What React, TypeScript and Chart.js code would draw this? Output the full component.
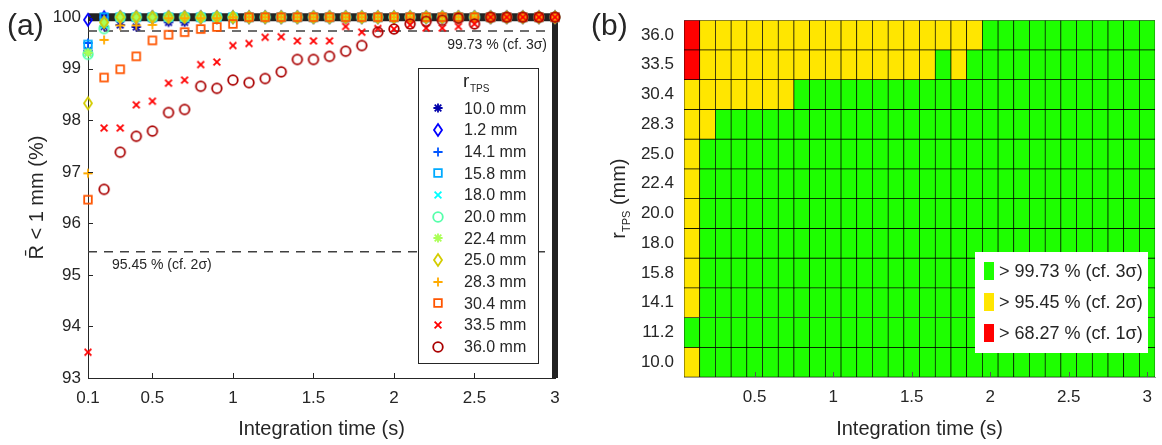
import React, { useEffect, useRef } from 'react';
import { Chart, registerables } from 'chart.js';

Chart.register(...registerables);

const FONT = "'Liberation Sans', Arial, Helvetica, sans-serif";
const TXT = '#262626';

// ---------- data ----------
const times = [0.1, 0.2, 0.3, 0.4, 0.5, 0.6, 0.7, 0.8, 0.9, 1.0, 1.1, 1.2, 1.3, 1.4, 1.5, 1.6, 1.7, 1.8, 1.9, 2.0, 2.1, 2.2, 2.3, 2.4, 2.5, 2.6, 2.7, 2.8, 2.9, 3.0];

const legendLabels = ['10.0 mm', '1.2 mm', '14.1 mm', '15.8 mm', '18.0 mm', '20.0 mm', '22.4 mm', '25.0 mm', '28.3 mm', '30.4 mm', '33.5 mm', '36.0 mm'];
const heatRows = ['10.0', '11.2', '14.1', '15.8', '18.0', '20.0', '22.4', '25.0', '28.3', '30.4', '33.5', '36.0'];

const r10_0 = [99.35, 99.82, 99.85, 99.81, 99.97, 99.9, 99.9, 100, 100, 100, 100, 100, 100, 100, 100, 100, 100, 100, 100, 100, 100, 100, 100, 100, 100, 100, 100, 100, 100, 100];
const r11_2 = [99.95, 100, 100, 100, 100, 100, 100, 100, 100, 100, 100, 100, 100, 100, 100, 100, 100, 100, 100, 100, 100, 100, 100, 100, 100, 100, 100, 100, 100, 100];
const r14_1 = [99.5, 100, 100, 100, 100, 100, 100, 100, 100, 100, 100, 100, 100, 100, 100, 100, 100, 100, 100, 100, 100, 100, 100, 100, 100, 100, 100, 100, 100, 100];
const r15_8 = [99.47, 100, 100, 100, 100, 100, 100, 100, 100, 100, 100, 100, 100, 100, 100, 100, 100, 100, 100, 100, 100, 100, 100, 100, 100, 100, 100, 100, 100, 100];
const r18_0 = [99.3, 99.85, 100, 100, 100, 100, 100, 100, 100, 100, 100, 100, 100, 100, 100, 100, 100, 100, 100, 100, 100, 100, 100, 100, 100, 100, 100, 100, 100, 100];
const r20_0 = [99.28, 99.78, 100, 100, 100, 100, 100, 100, 100, 100, 100, 100, 100, 100, 100, 100, 100, 100, 100, 100, 100, 100, 100, 100, 100, 100, 100, 100, 100, 100];
const r22_4 = [99.31, 99.9, 100, 100, 100, 100, 100, 100, 100, 100, 100, 100, 100, 100, 100, 100, 100, 100, 100, 100, 100, 100, 100, 100, 100, 100, 100, 100, 100, 100];
const r25_0 = [98.33, 99.9, 100, 100, 100, 100, 100, 100, 100, 100, 100, 100, 100, 100, 100, 100, 100, 100, 100, 100, 100, 100, 100, 100, 100, 100, 100, 100, 100, 100];
const r28_3 = [96.97, 99.56, 99.84, 99.84, 99.85, 99.98, 99.98, 99.98, 99.98, 100, 100, 100, 100, 100, 100, 100, 100, 100, 100, 100, 100, 100, 100, 100, 100, 100, 100, 100, 100, 100];
const r30_4 = [96.46, 98.83, 98.99, 99.24, 99.55, 99.66, 99.71, 99.77, 99.81, 99.87, 100, 100, 100, 100, 100, 100, 100, 100, 100, 100, 100, 100, 100, 100, 100, 100, 100, 100, 100, 100];
const r33_5 = [93.5, 97.85, 97.85, 98.3, 98.37, 98.72, 98.78, 99.08, 99.13, 99.45, 99.49, 99.61, 99.62, 99.54, 99.54, 99.54, 99.82, 99.71, 99.78, 99.77, 99.85, 99.79, 99.79, 99.82, 99.87, 100, 100, 100, 100, 100];
const r36_0 = [91.5, 96.66, 97.38, 97.69, 97.79, 98.15, 98.21, 98.66, 98.62, 98.78, 98.73, 98.81, 98.94, 99.18, 99.18, 99.24, 99.34, 99.45, 99.71, 99.77, 99.87, 99.92, 99.94, 99.98, 99.87, 100, 100, 100, 100, 100];

const seriesValues = [r10_0, r11_2, r14_1, r15_8, r18_0, r20_0, r22_4, r25_0, r28_3, r30_4, r33_5, r36_0];
const seriesColors = ['#0000aa', '#0000ff', '#0055ff', '#00aaff', '#00ffff', '#55ffaa', '#aaff55', '#d4cc00', '#ffaa00', '#ff5500', '#ff0000', '#aa0000'];
const seriesShapes = ['asterisk', 'diamond', 'plus', 'square', 'x', 'circle', 'asterisk', 'diamond', 'plus', 'square', 'x', 'circle'];

const xTicksA = [0.1, 0.5, 1, 1.5, 2, 2.5, 3];
const yTicksA = [93, 94, 95, 96, 97, 98, 99, 100];
const xTicksB = [0.5, 1, 1.5, 2, 2.5, 3];

const level3 = 99.73;
const level2 = 95.45;
const level1 = 68.27;
const levelColors = ['#1eff00', '#ffe600', '#ff0000'];
const levelLabels = ['> 99.73 % (cf. 3\u03c3)', '> 95.45 % (cf. 2\u03c3)', '> 68.27 % (cf. 1\u03c3)'];
const cellHalfWidth = 0.05;

// ---------- helpers ----------
function makeMarker(shape: string, color: string): HTMLCanvasElement {
  const c = document.createElement('canvas');
  c.width = 16;
  c.height = 16;
  const g = c.getContext('2d')!;
  const cx = 8, cy = 8;
  g.strokeStyle = color;
  g.lineWidth = 1.8;
  g.beginPath();
  if (shape === 'circle') {
    g.arc(cx, cy, 4.8, 0, Math.PI * 2);
  } else if (shape === 'square') {
    g.rect(cx - 3.8, cy - 3.8, 7.6, 7.6);
  } else if (shape === 'diamond') {
    g.moveTo(cx, cy - 5.9); g.lineTo(cx + 4, cy); g.lineTo(cx, cy + 5.9); g.lineTo(cx - 4, cy); g.closePath();
  } else if (shape === 'plus') {
    g.moveTo(cx - 4.6, cy); g.lineTo(cx + 4.6, cy); g.moveTo(cx, cy - 4.6); g.lineTo(cx, cy + 4.6);
  } else if (shape === 'x') {
    const d = 3.4;
    g.moveTo(cx - d, cy - d); g.lineTo(cx + d, cy + d); g.moveTo(cx + d, cy - d); g.lineTo(cx - d, cy + d);
  } else {
    const d = 3.3;
    g.moveTo(cx - 4.6, cy); g.lineTo(cx + 4.6, cy); g.moveTo(cx, cy - 4.6); g.lineTo(cx, cy + 4.6);
    g.moveTo(cx - d, cy - d); g.lineTo(cx + d, cy + d); g.moveTo(cx + d, cy - d); g.lineTo(cx - d, cy + d);
  }
  g.stroke();
  return c;
}

function levelOf(v: number): number {
  if (v > level3) return 0;
  if (v > level2) return 1;
  return 2;
}

function configA(markers: HTMLCanvasElement[]): any {
  const series = seriesValues.map((vals, i) => ({
    label: legendLabels[i],
    data: times.map((t, j) => ({ x: t, y: vals[j] })),
    showLine: false,
    pointStyle: markers[i],
    pointRadius: 5,
    pointHoverRadius: 5,
    borderColor: seriesColors[i],
    backgroundColor: 'rgba(0,0,0,0)',
    order: 12 - i,
    clip: { left: 15, right: 15, top: 15, bottom: 0 },
  }));
  const lineDs = (label: string, pts: { x: number; y: number }[], color: string, width: number, dash: number[]) => ({
    label,
    data: pts,
    showLine: true,
    borderColor: color,
    borderWidth: width,
    borderDash: dash,
    pointRadius: 0,
    pointHoverRadius: 0,
    order: 100,
    clip: false,
  });
  const plugin = {
    id: 'annotA',
    afterDraw(chart: any) {
      const { ctx, chartArea: ca, scales } = chart;
      const x = scales.x, y = scales.y;
      ctx.save();
      // inward ticks
      ctx.strokeStyle = TXT;
      ctx.lineWidth = 1;
      ctx.beginPath();
      yTicksA.forEach((v) => {
        const py = Math.round(y.getPixelForValue(v)) + 0.5;
        ctx.moveTo(ca.left, py); ctx.lineTo(ca.left + 5, py);
      });
      xTicksA.forEach((v) => {
        const px = Math.round(x.getPixelForValue(v)) + 0.5;
        ctx.moveTo(px, ca.bottom); ctx.lineTo(px, ca.bottom - 5);
      });
      ctx.stroke();
      // threshold labels
      ctx.fillStyle = TXT;
      ctx.font = `14px ${FONT}`;
      ctx.textBaseline = 'middle';
      ctx.textAlign = 'right';
      ctx.fillText('99.73 % (cf. 3\u03c3)', ca.right - 8, y.getPixelForValue(level3) + 14);
      ctx.textAlign = 'left';
      ctx.fillText('95.45 % (cf. 2\u03c3)', ca.left + 24, y.getPixelForValue(level2) + 13);
      // legend
      ctx.fillStyle = '#ffffff';
      ctx.fillRect(418, 68, 120, 295);
      ctx.strokeStyle = TXT;
      ctx.lineWidth = 1;
      ctx.strokeRect(418.5, 68.5, 120, 295);
      ctx.fillStyle = TXT;
      ctx.textAlign = 'left';
      ctx.textBaseline = 'alphabetic';
      ctx.font = `19px ${FONT}`;
      ctx.fillText('r', 463, 87);
      ctx.font = `10px ${FONT}`;
      ctx.fillText('TPS', 470, 92);
      ctx.font = `16px ${FONT}`;
      ctx.textBaseline = 'middle';
      legendLabels.forEach((lab, i) => {
        const my = 108.3 + i * 21.67;
        const m = markers[i];
        ctx.drawImage(m, Math.round(438 - m.width / 2), Math.round(my - m.height / 2));
        ctx.fillText(lab, 464, my + 1);
      });
      // panel label
      ctx.font = `30px ${FONT}`;
      ctx.textBaseline = 'middle';
      ctx.fillText('(a)', 7, 27);
      ctx.restore();
    },
  };
  return {
    type: 'scatter',
    data: {
      datasets: [
        lineDs('bar-top', [{ x: 0.1, y: 100 }, { x: 3, y: 100 }], '#222222', 8, []),
        lineDs('bar-right', [{ x: 3, y: 100.07 }, { x: 3, y: 93 }], '#222222', 6, []),
        lineDs('3sigma', [{ x: 0.1, y: level3 }, { x: 3, y: level3 }], '#404040', 1.5, [9, 7]),
        lineDs('2sigma', [{ x: 0.1, y: level2 }, { x: 3, y: level2 }], '#404040', 1.5, [9, 7]),
        ...series,
      ],
    },
    options: {
      responsive: false,
      animation: false,
      events: [],
      layout: { padding: { left: 0, right: 15, top: 14, bottom: 0 }, autoPadding: false },
      plugins: { legend: { display: false }, tooltip: { enabled: false } },
      scales: {
        x: {
          type: 'linear',
          min: 0.1,
          max: 3,
          afterBuildTicks: (s: any) => { s.ticks = xTicksA.map((v) => ({ value: v })); },
          afterFit: (s: any) => { s.height = 67; },
          ticks: { callback: (v: any) => String(v), font: { family: FONT, size: 17 }, color: TXT, padding: 10, maxRotation: 0, autoSkip: false },
          grid: { display: false, drawTicks: false },
          border: { display: true, color: TXT, width: 1 },
          title: { display: true, text: 'Integration time (s)', font: { family: FONT, size: 20 }, color: TXT, padding: { top: 0, bottom: 4 } },
        },
        y: {
          type: 'linear',
          min: 93,
          max: 100,
          afterBuildTicks: (s: any) => { s.ticks = yTicksA.map((v) => ({ value: v })); },
          afterFit: (s: any) => { s.width = 88; },
          ticks: { callback: (v: any) => String(v), font: { family: FONT, size: 17 }, color: TXT, padding: 7, autoSkip: false },
          grid: { display: false, drawTicks: false },
          border: { display: true, color: TXT, width: 1 },
          title: { display: true, text: 'R\u0304 < 1 mm (%)', font: { family: FONT, size: 20 }, color: TXT, padding: { top: 25, bottom: 0 } },
        },
      },
    },
    plugins: [plugin],
  };
}

function configB(): any {
  const cells: any[] = [];
  const colors: string[] = [];
  seriesValues.forEach((vals, i) => {
    times.forEach((t, j) => {
      cells.push({ x: [t - cellHalfWidth, t + cellHalfWidth], y: heatRows[i] });
      colors.push(levelColors[levelOf(vals[j])]);
    });
  });
  const plugin = {
    id: 'annotB',
    afterDraw(chart: any) {
      const { ctx, chartArea: ca, scales } = chart;
      const x = scales.x;
      ctx.save();
      ctx.strokeStyle = '#555555';
      ctx.lineWidth = 1;
      ctx.beginPath();
      xTicksB.forEach((v) => {
        const px = Math.round(x.getPixelForValue(v)) + 0.5;
        ctx.moveTo(px, ca.bottom); ctx.lineTo(px, ca.bottom - 5);
      });
      ctx.stroke();
      // legend
      ctx.fillStyle = '#ffffff';
      ctx.fillRect(405, 252, 173, 101);
      ctx.textAlign = 'left';
      ctx.textBaseline = 'middle';
      ctx.font = `18px ${FONT}`;
      levelLabels.forEach((lab, i) => {
        const my = 270.7 + i * 31.3;
        ctx.fillStyle = levelColors[i];
        ctx.fillRect(414, Math.round(my - 9), 10, 18);
        ctx.fillStyle = TXT;
        ctx.fillText(lab, 429, my + 1);
      });
      // y title r_TPS (mm)
      ctx.save();
      ctx.translate(55, (ca.top + ca.bottom) / 2);
      ctx.rotate(-Math.PI / 2);
      ctx.textBaseline = 'alphabetic';
      ctx.fillStyle = TXT;
      ctx.font = `20px ${FONT}`;
      const w1 = ctx.measureText('r').width;
      const w3 = ctx.measureText(' (mm)').width;
      ctx.font = `11px ${FONT}`;
      const w2 = ctx.measureText('TPS').width;
      let cx = -(w1 + w2 + w3) / 2;
      ctx.font = `20px ${FONT}`;
      ctx.fillText('r', cx, 0);
      cx += w1;
      ctx.font = `11px ${FONT}`;
      ctx.fillText('TPS', cx, 5);
      cx += w2;
      ctx.font = `20px ${FONT}`;
      ctx.fillText(' (mm)', cx, 0);
      ctx.restore();
      // panel label
      ctx.fillStyle = TXT;
      ctx.font = `30px ${FONT}`;
      ctx.textBaseline = 'middle';
      ctx.fillText('(b)', 21, 27);
      ctx.restore();
    },
  };
  return {
    type: 'bar',
    data: {
      labels: [...heatRows].reverse(),
      datasets: [{
        label: 'levels',
        data: cells,
        backgroundColor: colors,
        borderColor: '#000000',
        borderWidth: 0.7,
        borderSkipped: false,
        barPercentage: 1,
        categoryPercentage: 1,
        grouped: false,
      }],
    },
    options: {
      indexAxis: 'y',
      responsive: false,
      animation: false,
      events: [],
      layout: { padding: { left: 0, right: 2, top: 13, bottom: 0 }, autoPadding: false },
      plugins: { legend: { display: false }, tooltip: { enabled: false } },
      scales: {
        x: {
          type: 'linear',
          min: 0.05,
          max: 3.05,
          afterBuildTicks: (s: any) => { s.ticks = xTicksB.map((v) => ({ value: v })); },
          afterFit: (s: any) => { s.height = 68; },
          ticks: { callback: (v: any) => String(v), font: { family: FONT, size: 17 }, color: TXT, padding: 10, maxRotation: 0, autoSkip: false },
          grid: { display: false, drawTicks: false },
          border: { display: true, color: '#9a9a9a', width: 1 },
          title: { display: true, text: 'Integration time (s)', font: { family: FONT, size: 20 }, color: TXT, padding: { top: 0, bottom: 4 } },
        },
        y: {
          type: 'category',
          afterFit: (s: any) => { s.width = 114; },
          ticks: { font: { family: FONT, size: 17 }, color: TXT, padding: 10, autoSkip: false },
          grid: { display: false, drawTicks: false },
          border: { display: false },
        },
      },
    },
    plugins: [plugin],
  };
}

export default function App() {
  const refA = useRef<HTMLCanvasElement>(null);
  const refB = useRef<HTMLCanvasElement>(null);
  useEffect(() => {
    const markers = seriesShapes.map((s, i) => makeMarker(s, seriesColors[i]));
    const chartA = new Chart(refA.current!, configA(markers));
    const chartB = new Chart(refB.current!, configB());
    return () => {
      chartA.destroy();
      chartB.destroy();
    };
  }, []);
  return (
    <div style={{ position: 'fixed', left: 0, top: 0, width: 1162, height: 445, background: '#ffffff', overflow: 'hidden' }}>
      <canvas ref={refA} width={570} height={445} style={{ position: 'absolute', left: 0, top: 0, width: 570, height: 445 }} />
      <canvas ref={refB} width={592} height={445} style={{ position: 'absolute', left: 570, top: 0, width: 592, height: 445 }} />
    </div>
  );
}
